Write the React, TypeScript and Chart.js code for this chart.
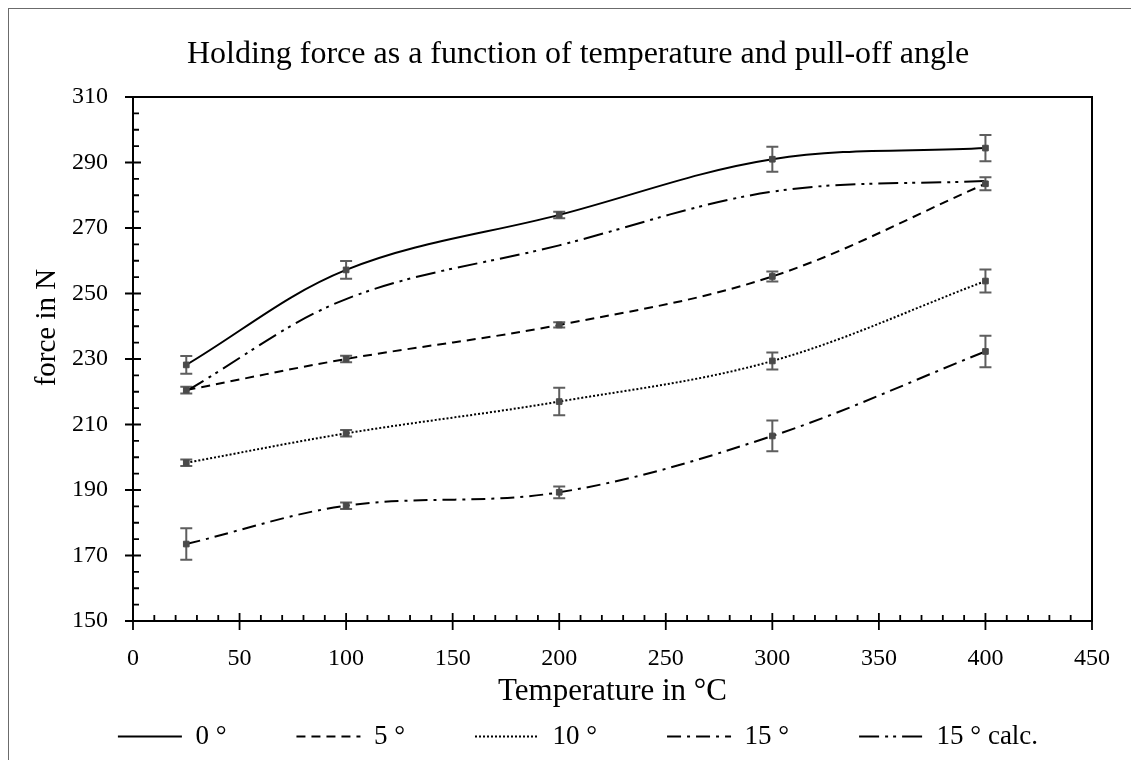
import React, { useEffect, useRef } from 'react';
import { Chart, registerables } from 'chart.js';

Chart.register(...registerables);

// ---- data ----
const temperatures = [25, 100, 200, 300, 400];
const force0 = [228.2, 257.2, 274.0, 291.0, 294.4];
const error0 = [2.7, 2.7, 1.0, 3.8, 4.0];
const force5 = [220.5, 230.0, 240.4, 255.2, 283.5];
const error5 = [1.0, 1.0, 0.8, 1.5, 2.0];
const force10 = [198.3, 207.3, 217.0, 229.4, 253.8];
const error10 = [1.0, 1.0, 4.2, 2.6, 3.5];
const force15 = [173.5, 185.2, 189.3, 206.5, 232.3];
const error15 = [4.8, 1.0, 1.8, 4.7, 4.8];
const force15calc = [220.2, 248.3, 264.7, 281.1, 284.4];
const seriesLabels = ['0 °', '5 °', '10 °', '15 °', '15 ° calc.'];

const TITLE = 'Holding force as a function of temperature and pull-off angle';
const X_TITLE = 'Temperature in °C';
const Y_TITLE = 'force in N';

const X_MIN = 0, X_MAX = 450, X_STEP = 50, X_MINOR = 10;
const Y_MIN = 150, Y_MAX = 310, Y_STEP = 20, Y_MINOR = 5;

const FONT = "'Liberation Serif', 'Times New Roman', serif";

const toPoints = (ys: number[]) => temperatures.map((t, i) => ({ x: t, y: ys[i] }));

const errorBarPlugin = {
  id: 'errorBars',
  beforeDatasetsDraw(chart: any) {
    const { ctx, scales } = chart;
    const x = scales.x, y = scales.y;
    chart.data.datasets.forEach((ds: any) => {
      const errs: number[] | undefined = ds.errors;
      if (!errs) return;
      ds.data.forEach((p: any, j: number) => {
        const px = x.getPixelForValue(p.x);
        const top = y.getPixelForValue(p.y + errs[j]);
        const bot = y.getPixelForValue(p.y - errs[j]);
        ctx.save();
        ctx.strokeStyle = '#5e5e5e';
        ctx.lineWidth = 2;
        ctx.setLineDash([]);
        ctx.beginPath();
        ctx.moveTo(px, top); ctx.lineTo(px, bot);
        ctx.moveTo(px - 6, top); ctx.lineTo(px + 6, top);
        ctx.moveTo(px - 6, bot); ctx.lineTo(px + 6, bot);
        ctx.stroke();
        ctx.restore();
      });
    });
  },
};

const axisBoxPlugin = {
  id: 'axisBox',
  afterDraw(chart: any) {
    const { ctx, chartArea: a, scales } = chart;
    const x = scales.x, y = scales.y;
    ctx.save();
    ctx.setLineDash([]);
    ctx.strokeStyle = '#000';
    ctx.lineWidth = 2;
    ctx.strokeRect(a.left, a.top, a.right - a.left, a.bottom - a.top);
    ctx.lineWidth = 1.8;
    ctx.beginPath();
    for (let v = Y_MIN; v <= Y_MAX; v += Y_MINOR) {
      const py = y.getPixelForValue(v);
      const major = (v - Y_MIN) % Y_STEP === 0;
      ctx.moveTo(a.left - (major ? 8 : 0), py);
      ctx.lineTo(a.left + (major ? 8 : 6), py);
    }
    for (let v = X_MIN; v <= X_MAX; v += X_MINOR) {
      const px = x.getPixelForValue(v);
      const major = (v - X_MIN) % X_STEP === 0;
      ctx.moveTo(px, a.bottom + (major ? 9 : 0));
      ctx.lineTo(px, a.bottom - (major ? 8 : 6));
    }
    ctx.stroke();

    // y-axis title (Excel places it slightly above the axis centre)
    ctx.fillStyle = '#000';
    ctx.font = `29px ${FONT}`;
    ctx.textAlign = 'center';
    ctx.textBaseline = 'alphabetic';
    ctx.translate(a.left - 78, a.top + (a.bottom - a.top) * 0.44);
    ctx.rotate(-Math.PI / 2);
    ctx.fillText(Y_TITLE, 0, 0);
    ctx.restore();
  },
};

export default function App() {
  const ref = useRef<HTMLCanvasElement>(null);

  useEffect(() => {
    const canvas = ref.current;
    if (!canvas) return;
    Chart.defaults.font.family = FONT;
    Chart.defaults.color = '#000';

    const common = {
      borderColor: '#000',
      borderWidth: 2,
      backgroundColor: '#4a4a4a',
      pointBackgroundColor: '#4a4a4a',
      pointBorderColor: '#4a4a4a',
      pointBorderWidth: 1,
      pointStyle: 'rect',
      pointRadius: 4,
      tension: 0.35,
      fill: false,
    };

    const chart = new Chart(canvas, {
      type: 'line',
      data: {
        datasets: [
          { ...common, label: seriesLabels[0], data: toPoints(force0), errors: error0, borderDash: [] },
          { ...common, label: seriesLabels[1], data: toPoints(force5), errors: error5, borderDash: [9, 6] },
          { ...common, label: seriesLabels[2], data: toPoints(force10), errors: error10, borderDash: [2, 2] },
          { ...common, label: seriesLabels[3], data: toPoints(force15), errors: error15, borderDash: [14, 6, 3, 6] },
          { ...common, label: seriesLabels[4], data: toPoints(force15calc), borderDash: [20, 6, 3, 5, 3, 6], pointRadius: 0 },
        ] as any,
      },
      options: {
        animation: false,
        responsive: false,
        layout: { padding: { left: 16, right: 0, top: 0, bottom: 0 } },
        plugins: {
          title: {
            display: true,
            text: TITLE,
            color: '#000',
            font: { size: 32, weight: 'normal', family: FONT },
            padding: { top: 26, bottom: 23.6 },
          },
          legend: {
            display: true,
            position: 'bottom',
            labels: {
              usePointStyle: true,
              pointStyle: 'line',
              pointStyleWidth: 64,
              boxWidth: 64,
              padding: 70,
              color: '#000',
              font: { size: 27, family: FONT },
              generateLabels: (c: any) =>
                c.data.datasets.map((ds: any, i: number) => ({
                  text: ds.label,
                  fillStyle: '#000',
                  strokeStyle: '#000',
                  lineWidth: 2,
                  lineDash: ds.borderDash,
                  lineCap: 'butt',
                  pointStyle: 'line',
                  hidden: false,
                  datasetIndex: i,
                  fontColor: '#000',
                })),
            },
          },
          tooltip: { enabled: false },
        },
        scales: {
          x: {
            type: 'linear',
            min: X_MIN,
            max: X_MAX,
            ticks: { stepSize: X_STEP, padding: -52, mirror: true, font: { size: 24, family: FONT }, color: '#000' },
            grid: { display: false, drawTicks: false },
            border: { display: false },
            title: { display: true, text: X_TITLE, font: { size: 31, family: FONT }, color: '#000', padding: { top: 0, bottom: -57.6 } },
            afterFit: (s: any) => { s.height = 32; },
          },
          y: {
            type: 'linear',
            min: Y_MIN,
            max: Y_MAX,
            ticks: { stepSize: Y_STEP, padding: 25, font: { size: 24, family: FONT }, color: '#000' },
            grid: { display: false, drawTicks: false },
            border: { display: false },
            title: { display: false },
            afterFit: (s: any) => { s.width = 108; },
          },
          yRightSpace: {
            type: 'linear',
            position: 'right',
            min: 0,
            max: 1,
            ticks: { display: false },
            grid: { display: false, drawTicks: false },
            border: { display: false },
            afterFit: (s: any) => { s.width = 39; },
          },
        },
      } as any,
      plugins: [errorBarPlugin, axisBoxPlugin],
    });
    return () => chart.destroy();
  }, []);

  return (
    <div
      style={{
        position: 'fixed',
        left: 8,
        top: 8,
        width: 1140,
        height: 770,
        borderLeft: '1px solid #6b6b6b',
        borderTop: '1px solid #6b6b6b',
        background: '#fff',
      }}
    >
      <canvas ref={ref} width={1122} height={751} style={{ display: 'block' }} />
    </div>
  );
}
